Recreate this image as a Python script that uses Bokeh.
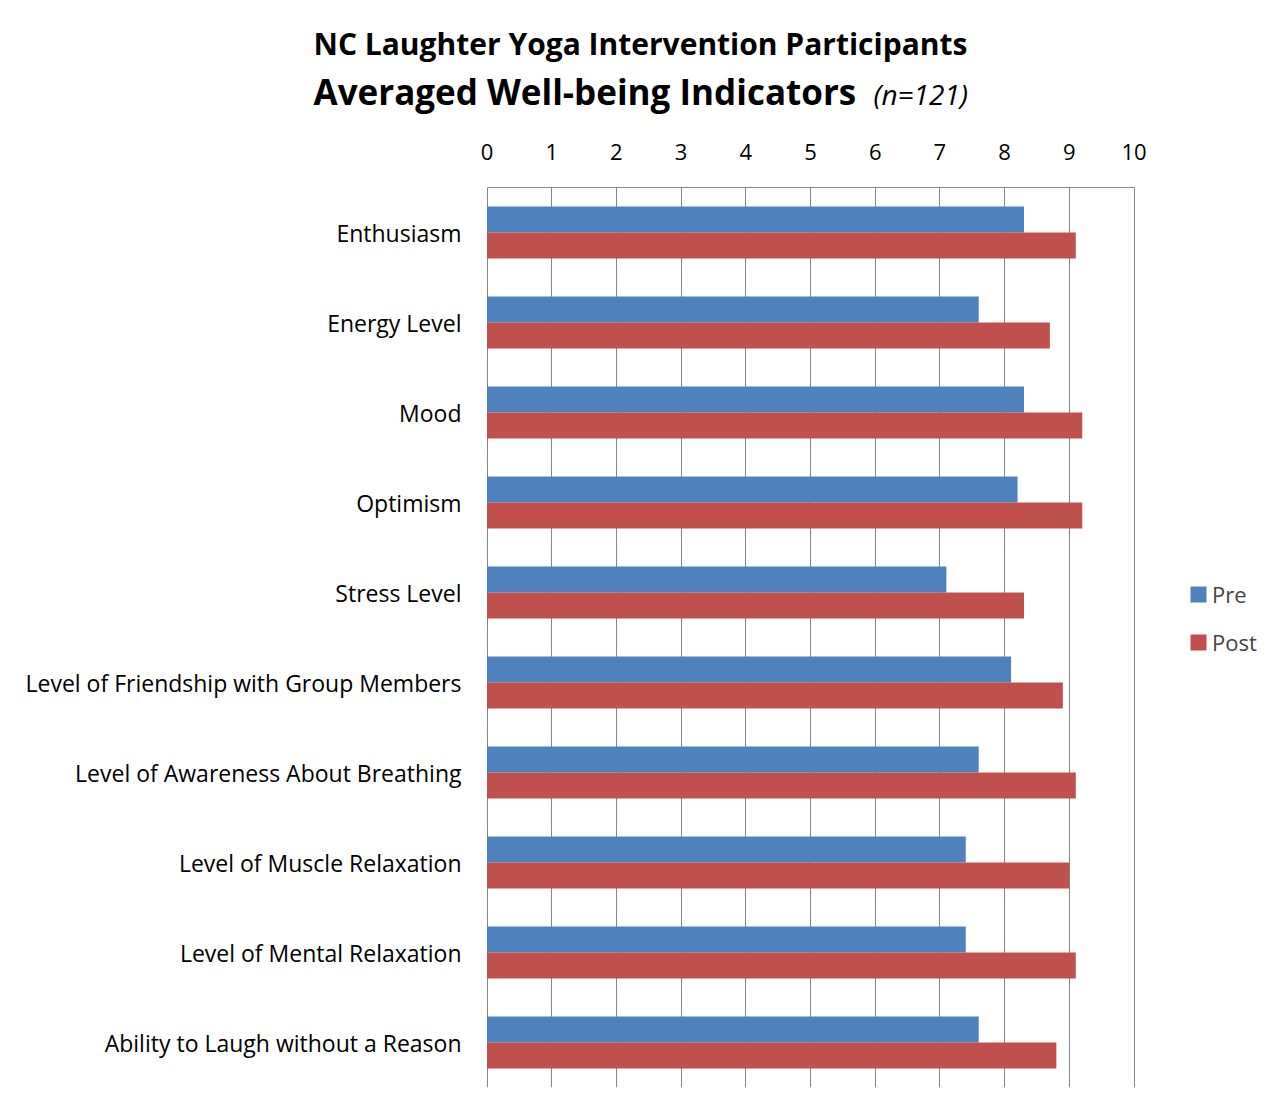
from bokeh.plotting import figure
from bokeh.models import (FactorRange, Range1d, FixedTicker, Legend, LegendItem, Title,
                          ColumnDataSource)
from bokeh.transform import dodge
from bokeh.embed import file_html
from bokeh.resources import INLINE

categories = [
    "Enthusiasm",
    "Energy Level",
    "Mood",
    "Optimism",
    "Stress Level",
    "Level of Friendship with Group Members",
    "Level of Awareness About Breathing",
    "Level of Muscle Relaxation",
    "Level of Mental Relaxation",
    "Ability to Laugh without a Reason",
]
pre = [8.3, 7.6, 8.3, 8.2, 7.1, 8.1, 7.6, 7.4, 7.4, 7.6]
post = [9.1, 8.7, 9.2, 9.2, 8.3, 8.9, 9.1, 9.0, 9.1, 8.8]
x_ticks = list(range(0, 11))
series_names = ["Pre", "Post"]
title_line1 = "NC Laughter Yoga Intervention Participants"
title_line2 = "Averaged Well-being Indicators"
title_n = "(n=121)"

FONT = "Open Sans"
GRID = "#868686"

PX = 64.7  # pixels per unit on the value axis
x0 = -0.5 / PX
src = ColumnDataSource(dict(cat=categories, pre=pre, post=post))

p = figure(
    output_backend="svg", toolbar_location=None,
    y_range=FactorRange(factors=list(reversed(categories))),
    x_range=Range1d(x0, x0 + 800 / PX),
    x_axis_location="above",
    frame_width=800, frame_height=900,
    min_border_left=486, min_border_top=187, min_border_right=0, min_border_bottom=29,
)
p.background_fill_color = "white"
p.border_fill_color = "white"
p.outline_line_color = None

r_pre = p.hbar(y=dodge("cat", 0.144, range=p.y_range), left=0, right="pre", height=0.288,
               source=src, fill_color="#4F81BD", line_color=None)
r_post = p.hbar(y=dodge("cat", -0.144, range=p.y_range), left=0, right="post", height=0.288,
                source=src, fill_color="#C0504D", line_color=None)

xa = p.xaxis[0]
xa.ticker = FixedTicker(ticks=x_ticks)
xa.bounds = (0, 10)
xa.axis_line_color = GRID
xa.major_tick_line_color = None
xa.minor_tick_line_color = None
xa.major_label_text_font = FONT
xa.major_label_text_font_size = "22px"
xa.major_label_text_color = "black"
xa.major_label_standoff = 22

ya = p.yaxis[0]
ya.axis_line_color = None
ya.major_tick_line_color = None
ya.minor_tick_line_color = None
ya.major_label_text_font = FONT
ya.major_label_text_font_size = "23px"
ya.major_label_text_color = "black"
ya.major_label_standoff = 19

p.xgrid.ticker = FixedTicker(ticks=x_ticks)
p.xgrid.grid_line_color = GRID
p.ygrid.grid_line_color = None

legend = Legend(
    items=[LegendItem(label=series_names[0], renderers=[r_pre]),
           LegendItem(label=series_names[1], renderers=[r_post])],
    location=(702, 430), margin=0, padding=0,
    glyph_width=20, glyph_height=20, label_standoff=4,
    label_text_font=FONT, label_text_font_size="22px",
    label_height=22, spacing=18, border_line_color=None, background_fill_alpha=0,
)
p.add_layout(legend, "center")

t_n = Title(text=title_n, align="left", offset=387, standoff=55,
            text_font=FONT, text_font_style="italic", text_font_size="28px", text_color="black")
t_2 = Title(text=title_line2, align="left", offset=-173, standoff=-139,
            text_font=FONT, text_font_style="bold", text_font_size="35px", text_color="black")
t_1 = Title(text=title_line1, align="left", offset=-173, standoff=-36,
            text_font=FONT, text_font_style="bold", text_font_size="30px", text_color="black")
p.add_layout(t_n, "above")
p.add_layout(t_2, "above")
p.add_layout(t_1, "above")

open("out.html", "w").write(file_html(p, INLINE))
